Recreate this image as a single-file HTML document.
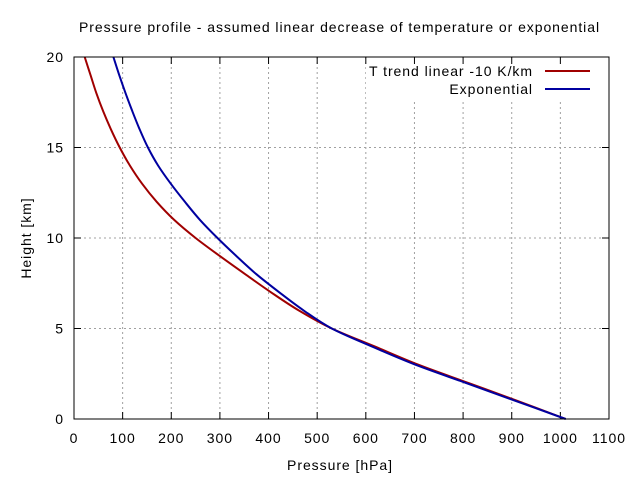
<!DOCTYPE html>
<html><head><meta charset="utf-8"><style>
body{margin:0;background:#fff}
svg text{font-family:"Liberation Sans",sans-serif;font-size:14px;fill:#000;letter-spacing:0.95px}
</style></head><body>
<svg id="chart" width="640" height="480" xmlns="http://www.w3.org/2000/svg">
<rect width="640" height="480" fill="#fff"/>
<g id="grid"></g>
<rect x="366" y="58" width="240" height="42" fill="#fff"/>
<g id="ticks"></g>
<g id="series"></g>
<rect x="74" y="57" width="535" height="362" fill="none" stroke="#000" stroke-width="1"/>
<text x="79" y="32" textLength="521">Pressure profile - assumed linear decrease of temperature or exponential</text>
<text x="340" y="470" text-anchor="middle">Pressure [hPa]</text>
<text transform="translate(31,238) rotate(-90)" text-anchor="middle">Height [km]</text>
<g>
<text x="533" y="76" text-anchor="end">T trend linear -10 K/km</text>
<line x1="545" y1="71" x2="590" y2="71" stroke="#a00000" stroke-width="2"/>
<text x="533" y="94" text-anchor="end">Exponential</text>
<line x1="545" y1="89" x2="590" y2="89" stroke="#0000a0" stroke-width="2"/>
</g>
</svg>
<script>
const heights=[0,1,2,3,4,5,6,7,8,9,10,11,12,13,14,15,16,17,18,19,20];
const linearP=[1011,912,810,708,619,530,462,405,352,300,250,206,170,140,115,94,76,60,46,34,22];
const expP=[1011,908,805,702,613,530,472,422,375,334,295,259,228,199,173,152,135,120,106,93,81];
const xTicks=[0,100,200,300,400,500,600,700,800,900,1000,1100];
const yTicks=[0,5,10,15,20];
const NS='http://www.w3.org/2000/svg';
const X=v=>74+v*535/1100, Y=v=>419-v*362/20;
function mk(tag,attrs,parent){const e=document.createElementNS(NS,tag);for(const k in attrs)e.setAttribute(k,attrs[k]);parent.appendChild(e);return e;}
const grid=document.getElementById('grid'),ticks=document.getElementById('ticks'),series=document.getElementById('series');
xTicks.forEach(t=>{
 const x=X(t);
 if(t>0&&t<1100){const g=mk('line',{x1:x,y1:57,x2:x,y2:419,stroke:'#a0a0a0','stroke-dasharray':'2,3'},grid);
 
 }
 const a=mk('line',{x1:x,y1:419,x2:x,y2:412,stroke:'#000'},ticks);
 
 
 const b=mk('line',{x1:x,y1:57,x2:x,y2:64,stroke:'#000'},ticks);
 
 
 const l=mk('text',{x:x,y:443,'text-anchor':'middle'},ticks);l.textContent=t;
 
 
});
yTicks.forEach(t=>{
 const y=Y(t);
 if(t>0&&t<20){const g=mk('line',{x1:74,y1:y,x2:609,y2:y,stroke:'#a0a0a0','stroke-dasharray':'2,3'},grid);
 
 }
 const a=mk('line',{x1:74,y1:y,x2:81,y2:y,stroke:'#000'},ticks);
 
 
 const b=mk('line',{x1:609,y1:y,x2:602,y2:y,stroke:'#000'},ticks);
 
 
 const l=mk('text',{x:64,y:y+5,'text-anchor':'end'},ticks);l.textContent=t;
 
 
});
function draw(vals,color,name){
 const pts=heights.map((h,i)=>[X(vals[i]),Y(h)]);
 let d='M'+pts[0][0]+','+pts[0][1];
 for(let i=1;i<pts.length;i++){
  const p0=pts[Math.max(0,i-2)],p1=pts[i-1],p2=pts[i],p3=pts[Math.min(pts.length-1,i+1)];
  const c1=[p1[0]+(p2[0]-p0[0])/6,p1[1]+(p2[1]-p0[1])/6],c2=[p2[0]-(p3[0]-p1[0])/6,p2[1]-(p3[1]-p1[1])/6];
  d+=` C${c1[0]},${c1[1]} ${c2[0]},${c2[1]} ${p2[0]},${p2[1]}`;
 }
 const p=mk('path',{d:d,fill:'none',stroke:color,'stroke-width':2},series);
 
 
}
draw(linearP,'#a00000','linear-temperature-line');
draw(expP,'#0000a0','exponential-line');
</script>
</body></html>
